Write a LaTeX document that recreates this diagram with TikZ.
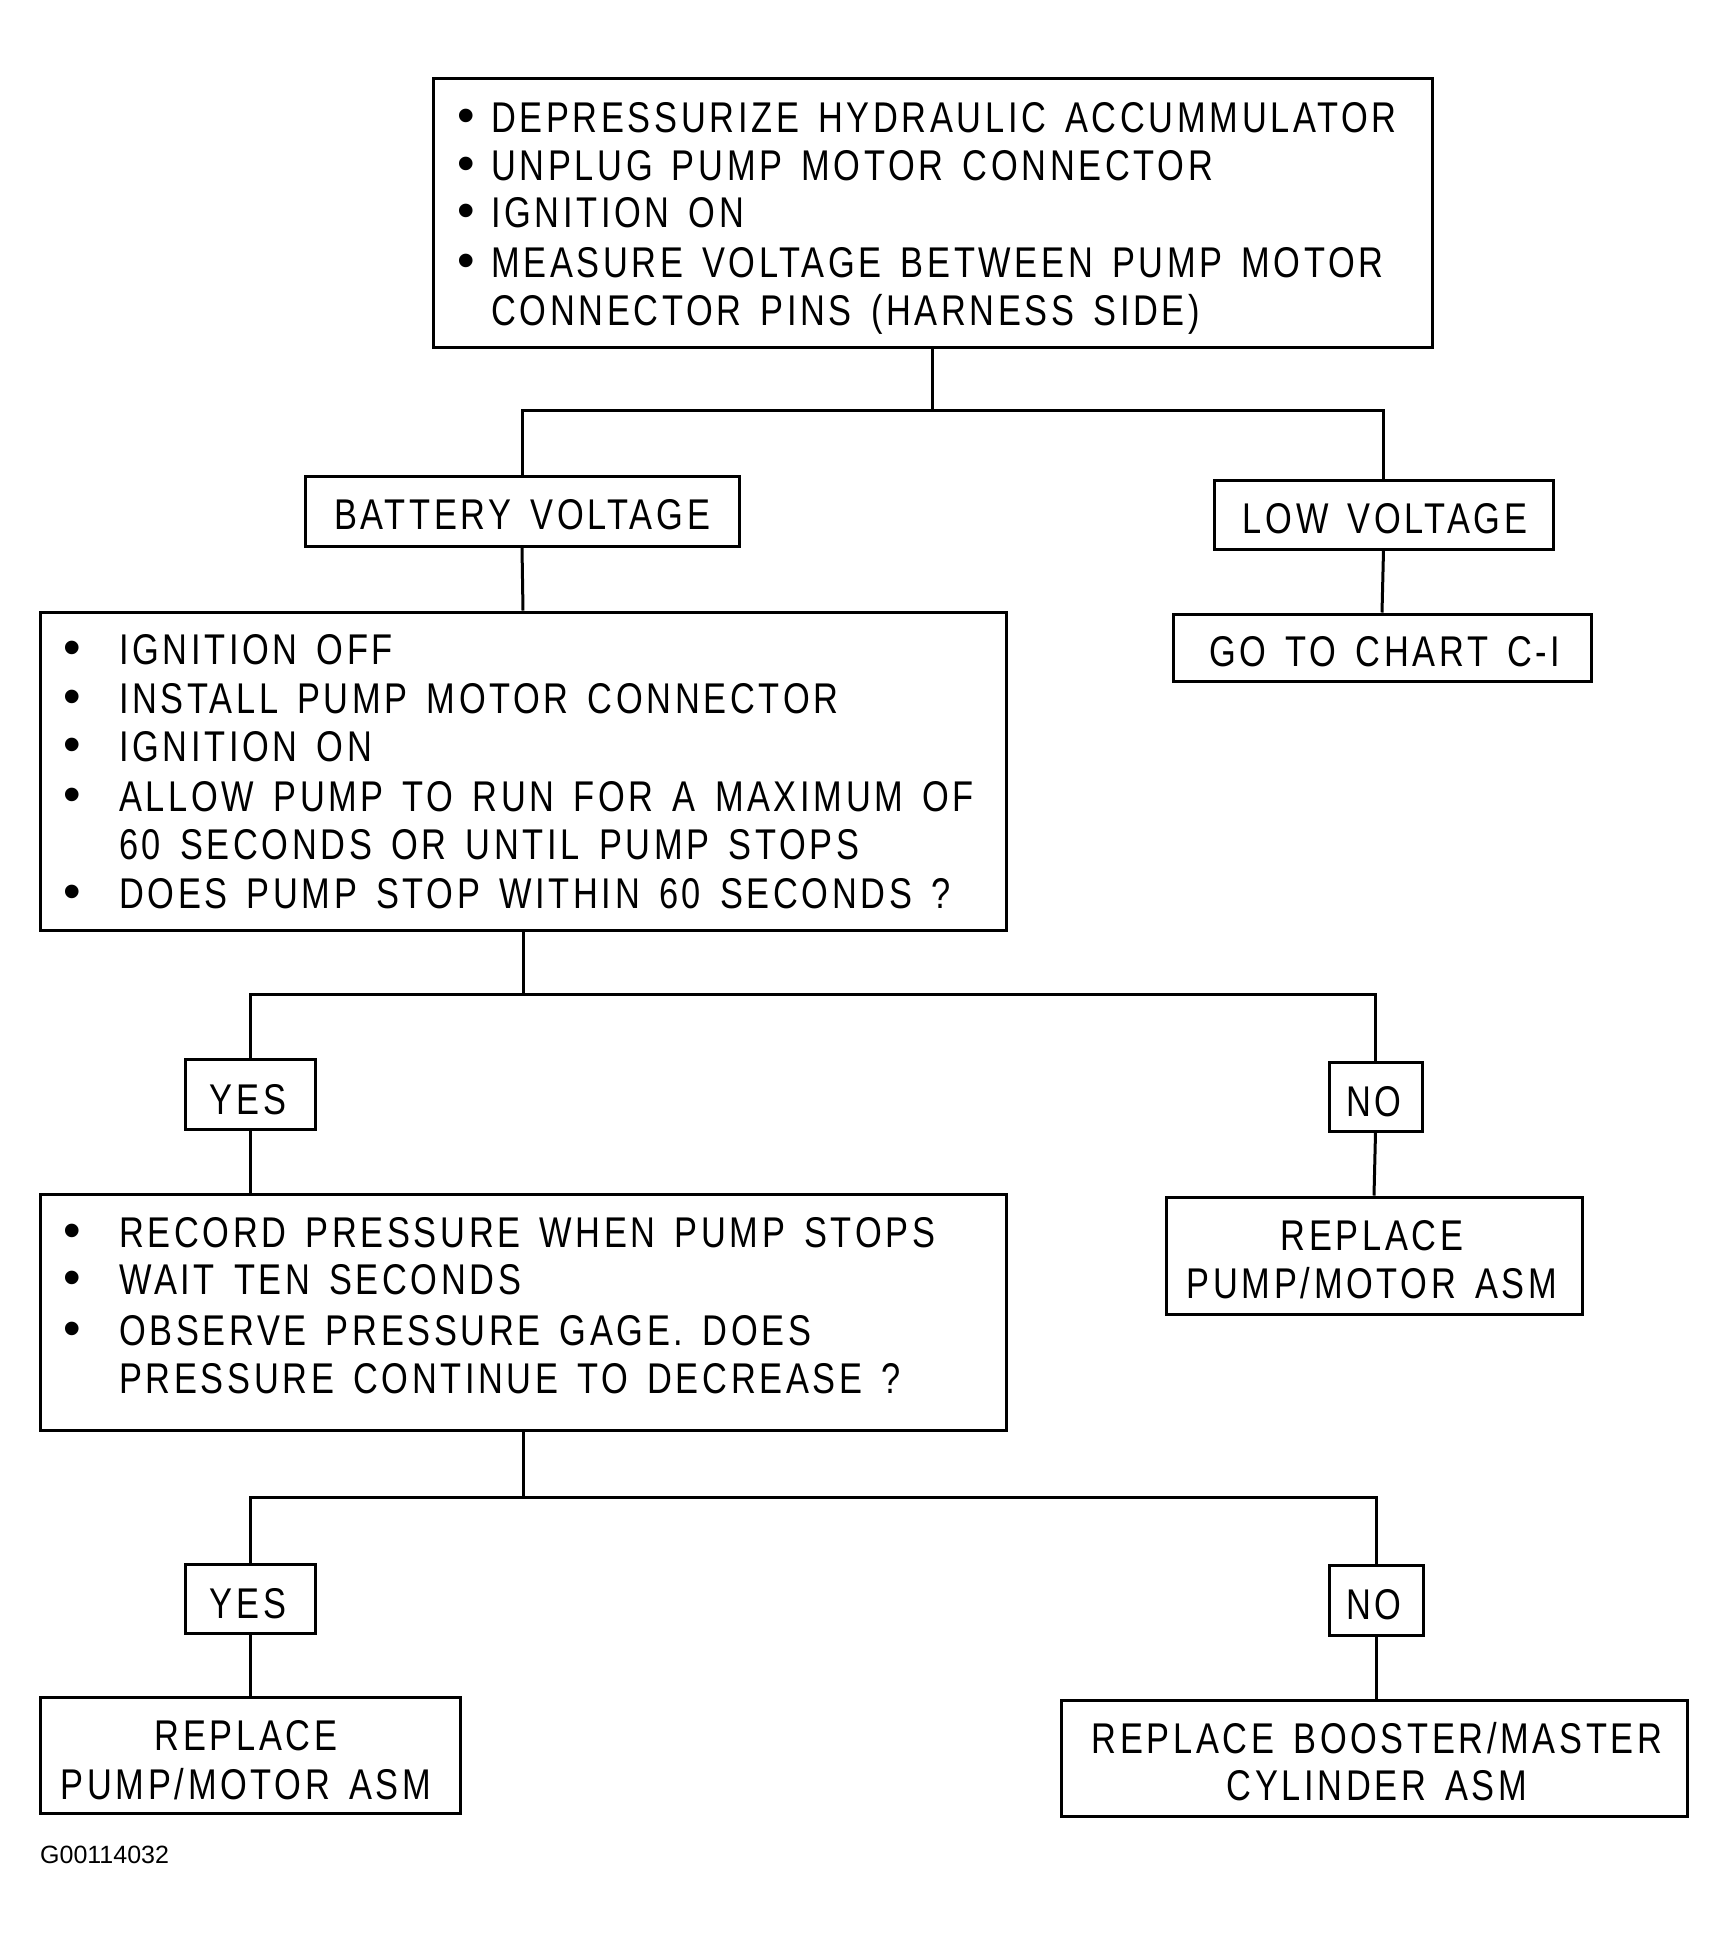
\documentclass[tikz,border=0pt]{standalone}
\usepackage{fontspec}
\setmainfont{Liberation Sans}
\newfontfamily\chartfont{Liberation Sans}[FakeStretch=0.8,LetterSpace=8.5,WordSpace=1.45]
\newfontfamily\plainfont{Liberation Sans}
\begin{document}
\begin{tikzpicture}[x=1pt,y=-1pt,
  box/.style={draw, line width=3pt, inner sep=0pt},
  conn/.style={line width=3pt},
  ltxt/.style={anchor=base west, inner sep=0pt, font=\chartfont\fontsize{43}{48}\selectfont},
  ctxt/.style={anchor=base, inner sep=0pt, font=\chartfont\fontsize{43}{48}\selectfont},
  bul/.style={anchor=base, inner sep=0pt, font=\plainfont\fontsize{50}{54}\selectfont}]
\useasboundingbox (0,0) rectangle (1727,1939);
\fill[white] (0,0) rectangle (1727,1939);
% boxes
\node[box, minimum width=999pt, minimum height=269pt] (b1) at (932.5,212.5) {};
\node[box, minimum width=434pt, minimum height=70pt] (bat) at (522,511) {};
\node[box, minimum width=339pt, minimum height=69pt] (low) at (1383.5,514.5) {};
\node[box, minimum width=418pt, minimum height=67pt] (chart) at (1382,647.5) {};
\node[box, minimum width=966pt, minimum height=318pt] (b2) at (523,771) {};
\node[box, minimum width=130pt, minimum height=70pt] (yes1) at (250,1094) {};
\node[box, minimum width=93pt, minimum height=69pt] (no1) at (1375.5,1096.5) {};
\node[box, minimum width=966pt, minimum height=236pt] (b3) at (523,1312) {};
\node[box, minimum width=416pt, minimum height=117pt] (rep1) at (1374,1255.5) {};
\node[box, minimum width=130pt, minimum height=69pt] (yes2) at (250,1598.5) {};
\node[box, minimum width=94pt, minimum height=70pt] (no2) at (1376,1600) {};
\node[box, minimum width=420pt, minimum height=116pt] (rep2) at (250,1755) {};
\node[box, minimum width=626pt, minimum height=116pt] (boost) at (1374,1758) {};
% connectors
\coordinate (j1) at (932.5,410);
\coordinate (j2) at (523,994);
\coordinate (j3) at (523,1497);
\draw[conn] (b1.south) -- (j1);
\draw[conn] (bat.north) |- (j1) -| (low.north);
\draw[conn] (bat.south) -- (b2.north);
\draw[conn] (low.south) -- (chart.north);
\draw[conn] (b2.south) -- (j2);
\draw[conn] (yes1.north) |- (j2) -| (no1.north);
\draw[conn] (yes1.south) -- (yes1.south |- b3.north);
\draw[conn] (no1.south) -- (rep1.north);
\draw[conn] (b3.south) -- (j3);
\draw[conn] (yes2.north) |- (j3) -| (no2.north);
\draw[conn] (yes2.south) -- (rep2.north);
\draw[conn] (no2.south) -- (no2.south |- boost.north);
% box 1 text
\node[bul] (b1d1) at (466,132) {•};
\node[ltxt] (b1t1) at (491,132) {DEPRESSURIZE HYDRAULIC ACCUMMULATOR};
\node[bul] (b1d2) at (466,180.5) {•};
\node[ltxt] (b1t2) at (491,180.5) {UNPLUG PUMP MOTOR CONNECTOR};
\node[bul] (b1d3) at (466,227.5) {•};
\node[ltxt] (b1t3) at (491,227.5) {IGNITION ON};
\node[bul] (b1d4) at (466,277) {•};
\node[ltxt] (b1t4) at (491,277) {MEASURE VOLTAGE BETWEEN PUMP MOTOR};
\node[ltxt] (b1t5) at (491,325) {CONNECTOR PINS (HARNESS SIDE)};
% small boxes
\node[ctxt] (batt) at (522,529) {BATTERY VOLTAGE};
\node[ctxt] (lowt) at (1385,533) {LOW VOLTAGE};
\node[ctxt] (chartt) at (1385,666) {GO TO CHART C-I};
% box 2 text
\node[bul] (b2d1) at (72,664) {•};
\node[ltxt] (b2t1) at (119,664) {IGNITION OFF};
\node[bul] (b2d2) at (72,713) {•};
\node[ltxt] (b2t2) at (119,713) {INSTALL PUMP MOTOR CONNECTOR};
\node[bul] (b2d3) at (72,761.5) {•};
\node[ltxt] (b2t3) at (119,761.5) {IGNITION ON};
\node[bul] (b2d4) at (72,811) {•};
\node[ltxt] (b2t4) at (119,811) {ALLOW PUMP TO RUN FOR A MAXIMUM OF};
\node[ltxt] (b2t5) at (119,859) {60 SECONDS OR UNTIL PUMP STOPS};
\node[bul] (b2d6) at (72,908.5) {•};
\node[ltxt] (b2t6) at (119,908.5) {DOES PUMP STOP WITHIN 60 SECONDS ?};
% yes/no
\node[ctxt] (yes1t) at (248,1114) {YES};
\node[ctxt] (no1t) at (1374,1116) {NO};
\node[ctxt] (yes2t) at (248,1618) {YES};
\node[ctxt] (no2t) at (1374,1619) {NO};
% box 3 text
\node[bul] (b3d1) at (72,1247) {•};
\node[ltxt] (b3t1) at (119,1247) {RECORD PRESSURE WHEN PUMP STOPS};
\node[bul] (b3d2) at (72,1294) {•};
\node[ltxt] (b3t2) at (119,1294) {WAIT TEN SECONDS};
\node[bul] (b3d3) at (72,1345) {•};
\node[ltxt] (b3t3) at (119,1345) {OBSERVE PRESSURE GAGE. DOES};
\node[ltxt] (b3t4) at (119,1393) {PRESSURE CONTINUE TO DECREASE ?};
% result boxes
\node[ctxt] (rep1a) at (1372,1250) {REPLACE};
\node[ctxt] (rep1b) at (1372,1298) {PUMP/MOTOR ASM};
\node[ctxt] (rep2a) at (246,1750) {REPLACE};
\node[ctxt] (rep2b) at (246,1799) {PUMP/MOTOR ASM};
\node[ctxt] (boosta) at (1377,1753) {REPLACE BOOSTER/MASTER};
\node[ctxt] (boostb) at (1377,1800) {CYLINDER ASM};
% figure id
\node[anchor=base west, inner sep=0pt, font=\plainfont\fontsize{25}{30}\selectfont] (gid) at (40,1863) {G00114032};
\end{tikzpicture}
\end{document}
